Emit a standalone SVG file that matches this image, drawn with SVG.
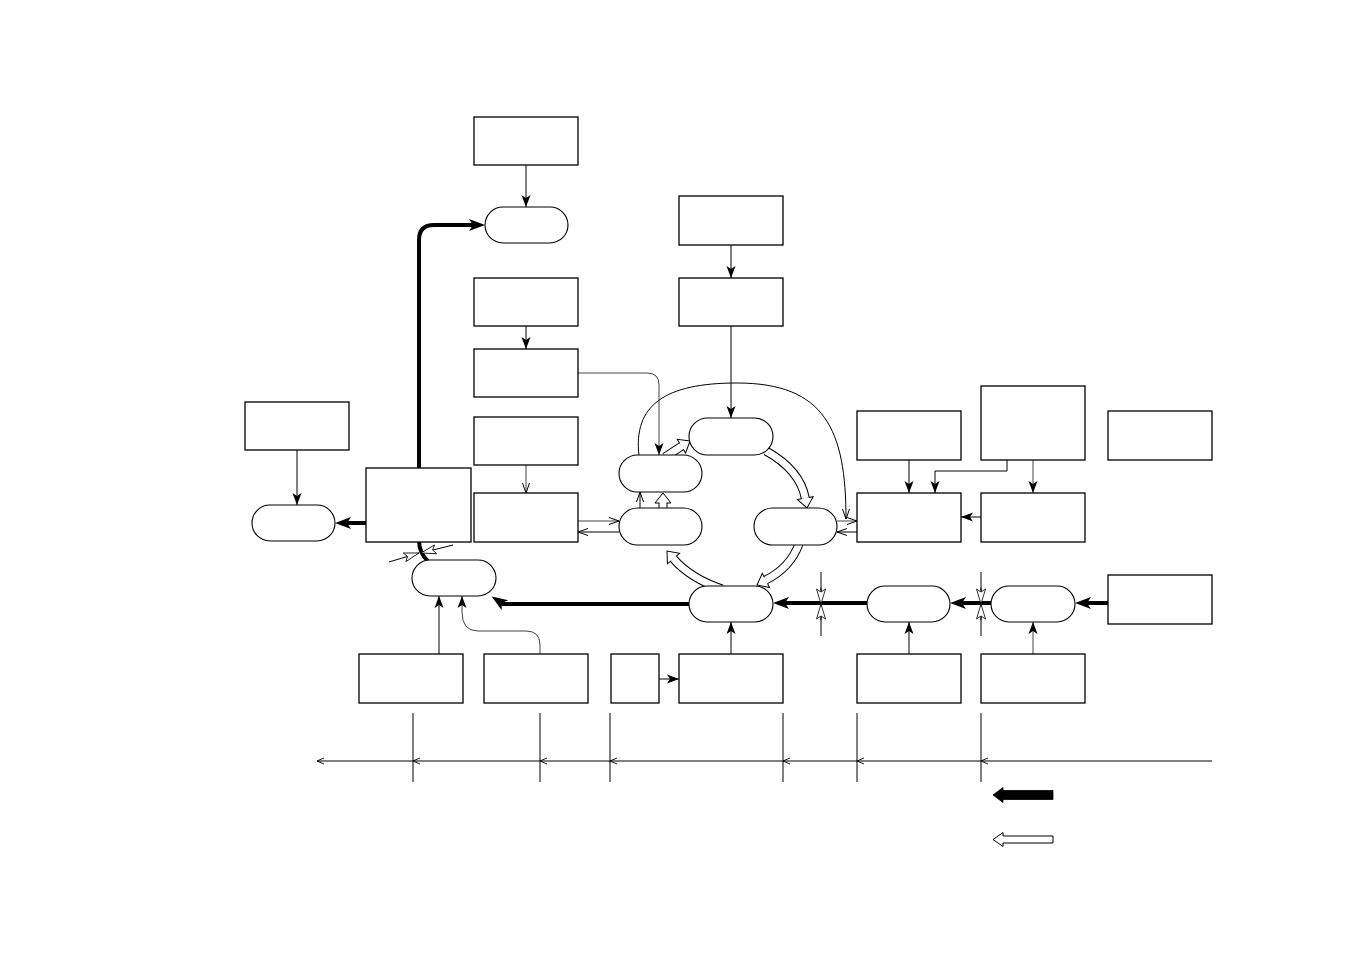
<svg xmlns="http://www.w3.org/2000/svg" width="1348" height="954" viewBox="0 0 1348 954">
<style>
.box{fill:#fff;stroke:#000;stroke-width:1.3}
.st{fill:#fff;stroke:#000;stroke-width:1.1}
.ln{fill:none;stroke:#000;stroke-width:1}
.gl{fill:none;stroke:#444;stroke-width:1}
.th{fill:none;stroke:#000;stroke-width:4;stroke-linejoin:round}
.bo{fill:none;stroke:#000;stroke-width:9}
.bi{fill:none;stroke:#fff;stroke-width:7}
.hd{fill:#fff;stroke:#000;stroke-width:1}
</style>
<defs>
<marker id="af" markerUnits="userSpaceOnUse" markerWidth="13" markerHeight="10" refX="12" refY="4.5" orient="auto" overflow="visible"><path d="M0,0 L12,4.5 L0,9 L3,4.5 z" fill="#000"/></marker>
<marker id="ao" markerUnits="userSpaceOnUse" markerWidth="11" markerHeight="8" refX="10" refY="3.5" orient="auto" overflow="visible"><path d="M0,0 L10,3.5 L0,7" fill="none" stroke="#000" stroke-width="1"/></marker>
<marker id="ax" markerUnits="userSpaceOnUse" markerWidth="8" markerHeight="7" refX="7" refY="3" orient="auto" overflow="visible"><path d="M0,0 L7,3 L0,6" fill="none" stroke="#000" stroke-width="0.9"/></marker>
<marker id="at" markerUnits="userSpaceOnUse" markerWidth="16" markerHeight="12" refX="6" refY="6" orient="auto" overflow="visible"><path d="M0,0 L16,6 L0,12 L4,6 z" fill="#000"/></marker>
<marker id="ah" markerUnits="userSpaceOnUse" markerWidth="16" markerHeight="10" refX="15" refY="4.5" orient="auto" overflow="visible"><path d="M0,0 L15,4.5 L0,9 L3,4.5 z" fill="#fff" stroke="#000" stroke-width="0.8"/></marker>
<path id="hh" d="M-10,-3.5 L-10,-8 L0,0 L-10,8 L-10,3.5" class="hd"/>
</defs>

<g id="connectors">
<path class="th" d="M428,561 Q419,553 419,540 V240 Q419,225 434,225 H475" marker-end="url(#at)"/>
<path class="ln" d="M526,165 V207" marker-end="url(#af)"/>
<path class="ln" d="M526,326 V349" marker-end="url(#af)"/>
<path class="gl" d="M526,465 V493" marker-end="url(#ao)"/>
<path class="gl" d="M578,373 H647 Q659,373 659,385 V455" marker-end="url(#af)"/>
<path class="ln" d="M731,245 V278" marker-end="url(#af)"/>
<path class="ln" d="M731,326 V418" marker-end="url(#af)"/>
<path class="gl" d="M578,521 H619" marker-end="url(#ao)"/>
<path class="ln" d="M619,532 H578" marker-end="url(#ao)"/>
<path class="ln" d="M640,508 V492" marker-end="url(#ao)"/>
<path class="ln" d="M639,456 C633,405 665,383 737,383 C825,383 846,430 846,519" marker-end="url(#ao)"/>
<path class="gl" d="M837,521 H857" marker-end="url(#ao)"/>
<path class="ln" d="M857,532 H837" marker-end="url(#ao)"/>
<path class="ln" d="M909,460 V493" marker-end="url(#af)"/>
<path class="ln" d="M1007,460 V471 H935 V493" marker-end="url(#af)"/>
<path class="gl" d="M1033,460 V493" marker-end="url(#af)"/>
<path class="ln" d="M981,517 H961" marker-end="url(#af)"/>
<path class="ln" d="M297,450 V505" marker-end="url(#af)"/>
<path class="th" d="M366,523 H345" marker-end="url(#at)"/>
<path class="th" d="M1108,603 H1085" marker-end="url(#at)"/>
<path class="th" d="M991,603 H960" marker-end="url(#at)"/>
<path class="th" d="M867,603 H783" marker-end="url(#at)"/>
<path class="th" d="M689,604 H503 L500,602" marker-end="url(#at)"/>
<path class="ln" d="M439,654 V596" marker-end="url(#af)"/>
<path class="gl" d="M540,654 V645 Q540,631 526,631 H478 Q462,631 462,612 V596" marker-end="url(#af)"/>
<path class="ln" d="M659,679 H679" marker-end="url(#af)"/>
<path class="ln" d="M731,654 V622" marker-end="url(#af)"/>
<path class="ln" d="M909,654 V622" marker-end="url(#af)"/>
<path class="gl" d="M1033,654 V622" marker-end="url(#af)"/>
<path class="ln" d="M389,562 L419,553" marker-end="url(#ah)"/>
<path class="ln" d="M453,545 L421,553" marker-end="url(#ah)"/>
<path class="ln" d="M821,572 V636"/>
<path class="ln" d="M821,588 V604" marker-end="url(#ah)"/>
<path class="ln" d="M821,620 V604" marker-end="url(#ah)"/>
<path class="ln" d="M981,572 V636"/>
<path class="ln" d="M981,588 V604" marker-end="url(#ah)"/>
<path class="ln" d="M981,620 V604" marker-end="url(#ah)"/>
<path class="bo" d="M663,510 V503"/><path class="bi" d="M663,510 V503"/>
<use href="#hh" transform="translate(663,493) rotate(-90)"/>
<path class="bo" d="M665,457 L681.5,446.2"/><path class="bi" d="M665,457 L681.5,446.2"/>
<use href="#hh" transform="translate(690,441) rotate(-31.3)"/>
<path class="bo" d="M766,451 Q800,470 805.3,498.2"/><path class="bi" d="M766,451 Q800,470 805.3,498.2"/>
<use href="#hh" transform="translate(807,508) rotate(80)"/>
<path class="bo" d="M799,544 Q790,568 765.7,580"/><path class="bi" d="M799,544 Q790,568 765.7,580"/>
<use href="#hh" transform="translate(757,585) rotate(153)"/>
<path class="bo" d="M722,589 Q690,578 673.4,558.7"/><path class="bi" d="M722,589 Q690,578 673.4,558.7"/>
<use href="#hh" transform="translate(667,551) rotate(-130.7)"/>
</g>

<g id="nodes">
<g id="n-a"><rect class="box" x="474" y="117" width="104" height="48"/></g>
<g id="n-e1"><rect class="st" x="485" y="207" width="83" height="36" rx="18"/></g>
<g id="n-b"><rect class="box" x="474" y="278" width="104" height="48"/></g>
<g id="n-c"><rect class="box" x="474" y="349" width="104" height="48"/></g>
<g id="n-d"><rect class="box" x="474" y="417" width="104" height="48"/></g>
<g id="n-f"><rect class="box" x="474" y="493" width="104" height="49"/></g>
<g id="n-g"><rect class="box" x="679" y="196" width="104" height="49"/></g>
<g id="n-h"><rect class="box" x="679" y="278" width="104" height="48"/></g>
<g id="n-l1"><rect class="box" x="245" y="402" width="104" height="48"/></g>
<g id="n-l2"><rect class="st" x="252" y="505" width="83" height="36" rx="18"/></g>
<g id="n-m"><rect class="box" x="366" y="468" width="105" height="74"/></g>
<g id="n-n"><rect class="st" x="412" y="560" width="84" height="36" rx="18"/></g>
<g id="n-p1"><rect class="st" x="619" y="455" width="83" height="37" rx="18.5"/></g>
<g id="n-p2"><rect class="st" x="689" y="418" width="84" height="37" rx="18.5"/></g>
<g id="n-p3"><rect class="st" x="619" y="508" width="83" height="37" rx="18.5"/></g>
<g id="n-p4"><rect class="st" x="754" y="508" width="83" height="37" rx="18.5"/></g>
<g id="n-p5"><rect class="st" x="689" y="586" width="84" height="36" rx="18"/></g>
<g id="n-r1"><rect class="box" x="857" y="411" width="104" height="49"/></g>
<g id="n-r2"><rect class="box" x="981" y="386" width="104" height="74"/></g>
<g id="n-r3"><rect class="box" x="1108" y="411" width="104" height="49"/></g>
<g id="n-r4"><rect class="box" x="857" y="493" width="104" height="49"/></g>
<g id="n-r5"><rect class="box" x="981" y="493" width="104" height="49"/></g>
<g id="n-s1"><rect class="st" x="867" y="586" width="83" height="36" rx="18"/></g>
<g id="n-s2"><rect class="st" x="991" y="586" width="84" height="36" rx="18"/></g>
<g id="n-r6"><rect class="box" x="1108" y="575" width="104" height="49"/></g>
<g id="n-b1"><rect class="box" x="359" y="654" width="104" height="49"/></g>
<g id="n-b2"><rect class="box" x="484" y="654" width="104" height="49"/></g>
<g id="n-b3"><rect class="box" x="611" y="654" width="48" height="49"/></g>
<g id="n-b4"><rect class="box" x="679" y="654" width="104" height="49"/></g>
<g id="n-b5"><rect class="box" x="857" y="654" width="104" height="49"/></g>
<g id="n-b6"><rect class="box" x="981" y="654" width="104" height="49"/></g>
</g>

<g id="axis">
<path class="ln" d="M413,713 V782 M540,713 V782 M610,713 V782 M783,713 V782 M857,713 V782 M981,713 V782"/>
<path class="ln" d="M1212,761 H981" marker-end="url(#ax)"/>
<path class="ln" d="M981,761 H857" marker-end="url(#ax)"/>
<path class="ln" d="M857,761 H783" marker-end="url(#ax)"/>
<path class="ln" d="M783,761 H610" marker-end="url(#ax)"/>
<path class="ln" d="M610,761 H540" marker-end="url(#ax)"/>
<path class="ln" d="M540,761 H413" marker-end="url(#ax)"/>
<path class="ln" d="M413,761 H317" marker-end="url(#ax)"/>
</g>

<g id="legend">
<polygon points="993,795 1003,787.5 1003,790.5 1053,790.5 1053,799.5 1003,799.5 1003,802.5" fill="#000" stroke="#000" stroke-width="0.8"/>
<polygon points="993,839.5 1003,832.5 1003,836 1053,836 1053,843 1003,843 1003,846.5" fill="#fff" stroke="#000" stroke-width="1"/>
</g>
</svg>
